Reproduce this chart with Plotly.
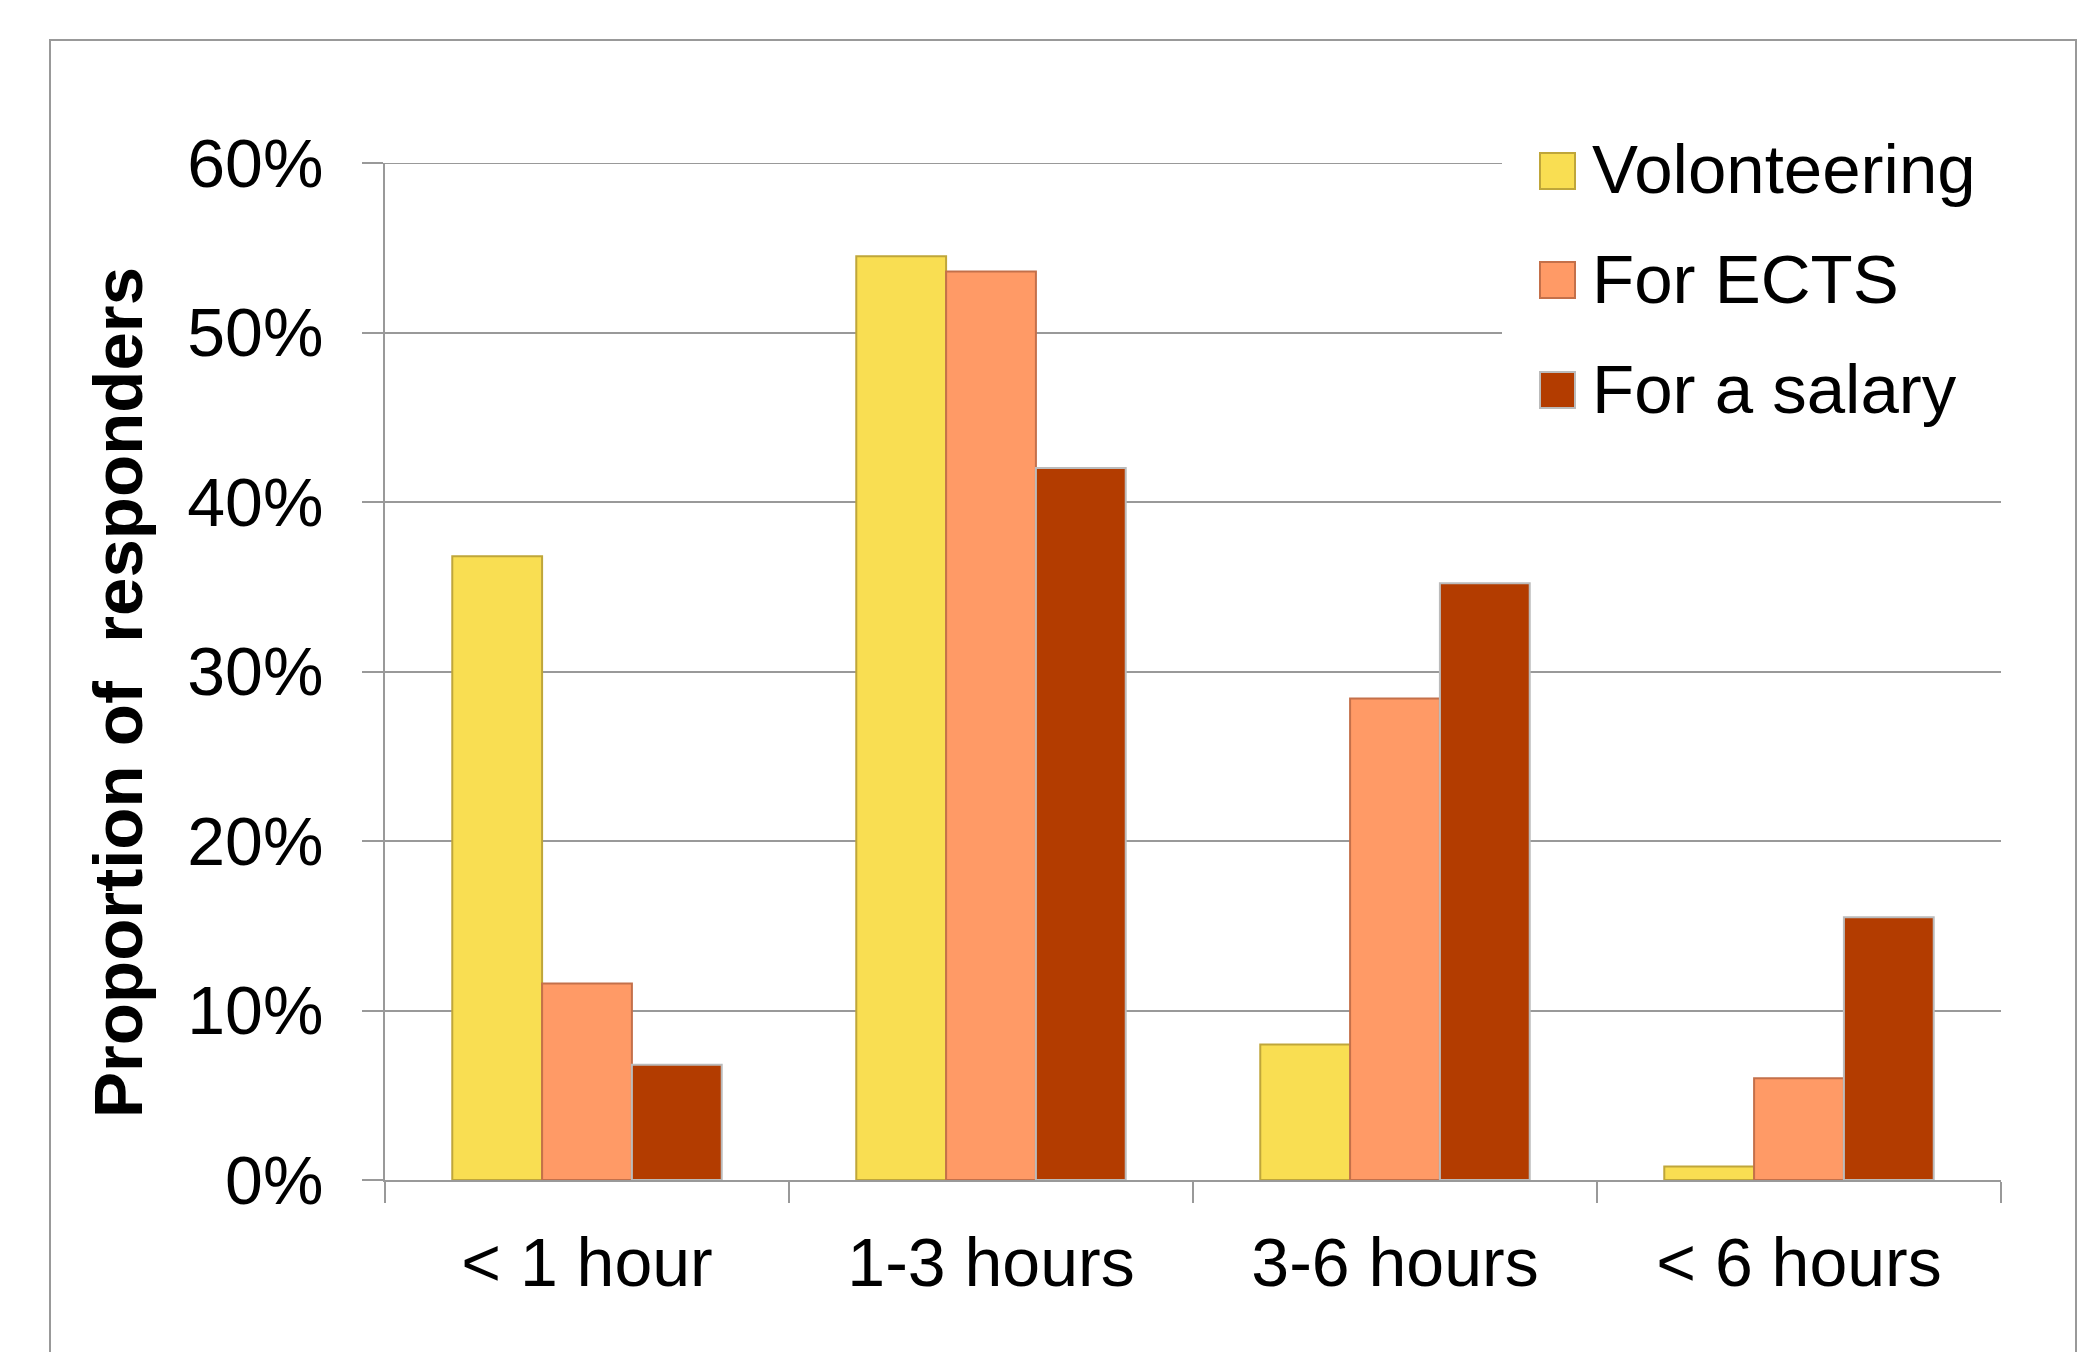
import plotly.graph_objects as go

categories = ["< 1 hour", "1-3 hours", "3-6 hours", "< 6 hours"]
series_names = ["Volonteering", "For ECTS", "For a salary"]
volonteering = [0.368, 0.545, 0.080, 0.008]
for_ects = [0.116, 0.536, 0.284, 0.060]
for_salary = [0.068, 0.420, 0.352, 0.155]
y_tick_values = [0.0, 0.1, 0.2, 0.3, 0.4, 0.5, 0.6]
y_tick_labels = ["0%", "10%", "20%", "30%", "40%", "50%", "60%"]
y_title = "Proportion of\u00a0\u00a0responders"

fills = ["#F9DE52", "#FF9A66", "#B33C00"]
edges = ["#BFA63A", "#C4704A", "#BBBBBB"]
values = [volonteering, for_ects, for_salary]

W, H = 2099, 1352
L, R, T, B = 385, 98, 163, 172
PW, PH = W - L - R, H - T - B


def px(x):
    return (x - L) / PW


def py(y):
    return (H - B - y) / PH


FONT = "Arial, 'Liberation Sans', Helvetica, sans-serif"

fig = go.Figure()
for name, vals, fc, ec in zip(series_names, values, fills, edges):
    fig.add_trace(go.Bar(
        x=categories, y=vals, name=name,
        marker=dict(color=fc, line=dict(color=ec, width=2)),
        showlegend=False,
    ))

shapes = []
annotations = []
# outer frame
shapes.append(dict(type="rect", xref="paper", yref="paper",
                   x0=px(50), x1=px(2076), y0=-0.3, y1=py(40),
                   line=dict(color="#999999", width=2), fillcolor="rgba(0,0,0,0)", layer="below"))
# top gridline (at the range edge)
shapes.append(dict(type="line", xref="paper", yref="y",
                   x0=0, x1=1, y0=y_tick_values[-1], y1=y_tick_values[-1],
                   line=dict(color="#999999", width=2), layer="below"))
# legend background hiding gridlines
shapes.append(dict(type="rect", xref="paper", yref="paper",
                   x0=px(1502), x1=px(2010), y0=py(450), y1=py(140),
                   line=dict(width=0), fillcolor="white", layer="above"))
legend_rows = [171, 280, 390]
for name, fc, ec, cy in zip(series_names, fills, edges, legend_rows):
    shapes.append(dict(type="rect", xref="paper", yref="paper",
                       x0=px(1540), x1=px(1575), y0=py(cy + 18), y1=py(cy - 18),
                       line=dict(color=ec, width=2), fillcolor=fc, layer="above"))
    annotations.append(dict(xref="paper", yref="paper", x=px(1590), y=py(cy - 1),
                            xanchor="left", yanchor="middle", showarrow=False,
                            text=name, font=dict(family=FONT, size=69, color="black")))
# y-axis title
annotations.append(dict(xref="paper", yref="paper", x=px(118), y=py(693),
                        xanchor="center", yanchor="middle", showarrow=False,
                        textangle=-90, text="<b>" + y_title + "</b>",
                        font=dict(family=FONT, size=69, color="black")))

fig.update_layout(
    width=W, height=H,
    margin=dict(l=L, r=R, t=T, b=B, autoexpand=False),
    paper_bgcolor="white", plot_bgcolor="white",
    barmode="group", bargap=0.333, bargroupgap=0,
    font=dict(family=FONT, size=68, color="black"),
    shapes=shapes, annotations=annotations,
    showlegend=False,
)
fig.update_xaxes(
    type="category", tickson="boundaries", ticks="outside", ticklen=21,
    tickcolor="#999999", tickwidth=2, showline=True, linecolor="#999999", linewidth=2,
    showgrid=False, tickfont=dict(family=FONT, size=68, color="black"),
    ticklabelstandoff=22,
)
fig.update_yaxes(
    range=[0, 0.6], tickvals=y_tick_values, ticktext=y_tick_labels,
    ticks="outside", ticklen=21, tickcolor="#999999", tickwidth=2,
    showline=True, linecolor="#999999", linewidth=2,
    showgrid=True, gridcolor="#999999", gridwidth=2, zeroline=False,
    tickfont=dict(family=FONT, size=68, color="black"),
    ticklabelstandoff=25,
)

fig.write_html("out.html", config={"displayModeBar": False},
               post_script="document.body.style.margin='0';document.body.style.overflow='hidden';")
